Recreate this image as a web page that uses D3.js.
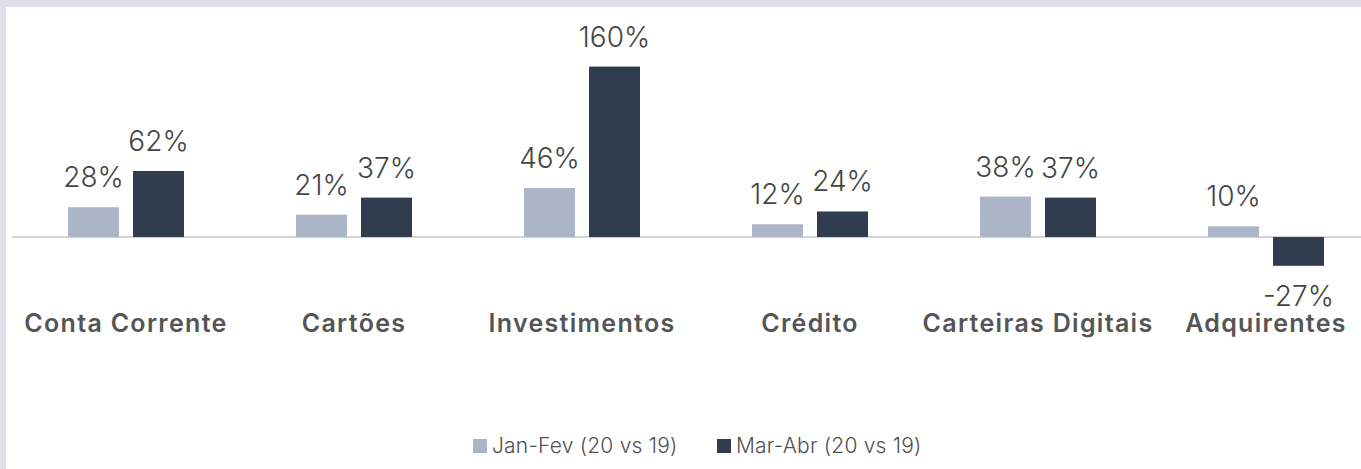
<!DOCTYPE html>
<html>
<head>
<meta charset="utf-8">
<script src="https://cdn.jsdelivr.net/npm/d3@7"></script>
<style>
  html, body { margin: 0; padding: 0; background: #ffffff; }
  svg { display: block; }
</style>
</head>
<body>
<svg id="chart" width="1361" height="469"></svg>
<script>
// Growth by product category, two periods compared with the prior year
const categories = ["Conta Corrente", "Cartões", "Investimentos", "Crédito", "Carteiras Digitais", "Adquirentes"];
const seriesNames = ["Jan-Fev (20 vs 19)", "Mar-Abr (20 vs 19)"];
const janFev = [28, 21, 46, 12, 38, 10];
const marAbr = [62, 37, 160, 24, 37, -27];
const seriesColors = ["#abb5c7", "#323c4f"];

const W = 1361, H = 469;
const FONT = "Inter, 'Open Sans', sans-serif";
const svg = d3.select("#chart");

// page frame
svg.append("rect").attr("x", 0).attr("y", 0).attr("width", W).attr("height", H).attr("fill", "#dedde8");
svg.append("rect").attr("x", 6).attr("y", 7).attr("width", W - 6).attr("height", H - 7).attr("fill", "#ffffff");

const rows = categories.map((c, i) => ({ cat: c, values: [janFev[i], marAbr[i]] }));

const x0 = d3.scaleBand()
  .domain(categories)
  .range([12, 1380])
  .paddingInner(112 / 228)
  .paddingOuter(56 / 228);

const x1 = d3.scaleBand()
  .domain(d3.range(seriesNames.length))
  .range([0, x0.bandwidth()])
  .paddingInner(0.2154);

const y = d3.scaleLinear().domain([-27, 160]).range([265.8, 66.6]);

const g = svg.append("g");

// zero baseline
g.append("line")
  .attr("x1", 12).attr("x2", W)
  .attr("y1", y(0)).attr("y2", y(0))
  .attr("stroke", "#d4d4d8").attr("stroke-width", 2);

const groups = g.selectAll("g.cat").data(rows).join("g")
  .attr("class", "cat")
  .attr("transform", d => `translate(${x0(d.cat)},0)`);

const cells = groups.selectAll("g.bar")
  .data(d => d.values.map((v, k) => ({ v, k })))
  .join("g").attr("class", "bar");

cells.append("rect")
  .attr("x", d => x1(d.k))
  .attr("width", x1.bandwidth())
  .attr("y", d => y(Math.max(0, d.v)))
  .attr("height", d => Math.abs(y(d.v) - y(0)))
  .attr("fill", d => seriesColors[d.k]);

cells.append("text")
  .attr("x", d => x1(d.k) + x1.bandwidth() / 2)
  .attr("y", d => d.v >= 0 ? y(d.v) - 20 : y(d.v) + 40)
  .attr("text-anchor", "middle")
  .attr("font-family", FONT)
  .attr("font-weight", 300)
  .attr("font-size", 28)
  .attr("fill", "#454545")
  .text(d => `${d.v}%`);

// category axis labels
g.selectAll("text.cat").data(categories).join("text")
  .attr("class", "cat")
  .attr("x", d => x0(d) + x0.bandwidth() / 2)
  .attr("y", 332)
  .attr("text-anchor", "middle")
  .attr("font-family", FONT)
  .attr("font-weight", 600)
  .attr("font-size", 25)
  .attr("letter-spacing", 1.3)
  .attr("fill", "#555555")
  .text(d => d);

// legend
const legendX = [473, 717];
const legend = svg.append("g").selectAll("g").data(seriesNames).join("g")
  .attr("transform", (d, i) => `translate(${legendX[i]},439)`);
legend.append("rect").attr("width", 14).attr("height", 14).attr("fill", (d, i) => seriesColors[i]);
legend.append("text")
  .attr("x", 19).attr("y", 14)
  .attr("font-family", FONT)
  .attr("font-weight", 300)
  .attr("font-size", 21)
  .attr("letter-spacing", 0.2)
  .attr("fill", "#505050")
  .text(d => d);
</script>
</body>
</html>
